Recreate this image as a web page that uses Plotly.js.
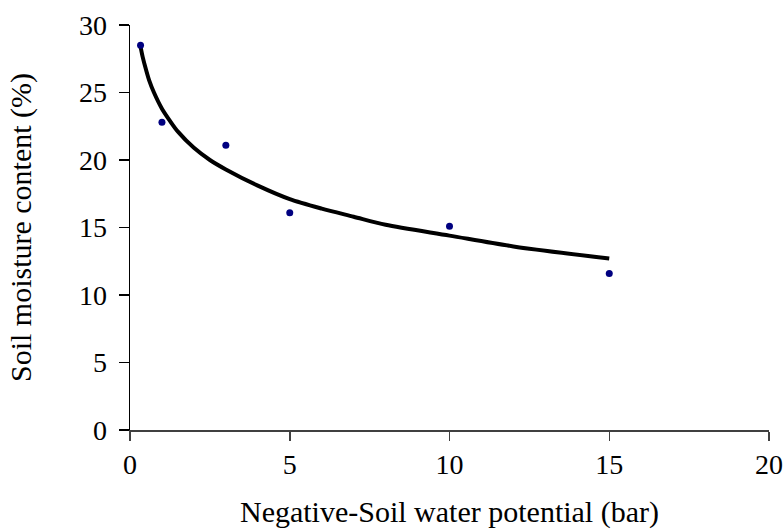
<!DOCTYPE html>
<html>
<head>
<meta charset="utf-8">
<script src="https://cdn.plot.ly/plotly-3.0.1.min.js"></script>
<style>html,body{margin:0;padding:0;background:#fff;}#chart{width:783px;height:529px;}</style>
</head>
<body>
<div id="chart"></div>
<script>
// Observed data points
var potential = [0.33, 1, 3, 5, 10, 15];
var moisture = [28.5, 22.8, 21.1, 16.1, 15.1, 11.6];

// Logarithmic trend line
var trendX = [0.33, 0.4, 0.5, 0.6, 0.75, 1, 1.25, 1.5, 2, 2.5, 3, 4, 5, 6, 7, 8, 10, 12, 15];
var trendY = [28.4, 27.6, 26.7, 25.9, 25.0, 23.8, 22.9, 22.1, 20.9, 20.0, 19.3, 18.1, 17.1, 16.4, 15.8, 15.2, 14.4, 13.6, 12.7];

var xTicks = [0, 5, 10, 15, 20];
var yTicks = [0, 5, 10, 15, 20, 25, 30];

var fam = '"Liberation Serif", "Times New Roman", serif';
var tickFont = {family: fam, size: 28, color: '#000'};
var titleFont = {family: fam, size: 30, color: '#000'};

var traces = [
  {x: trendX, y: trendY, type: 'scatter', mode: 'lines',
   line: {color: '#000', width: 4, shape: 'spline', smoothing: 0.8}, hoverinfo: 'skip'},
  {x: potential, y: moisture, type: 'scatter', mode: 'markers',
   marker: {color: '#000080', size: 7}}
];

var layout = {
  width: 783, height: 529,
  margin: {l: 130, r: 14, t: 25, b: 99},
  paper_bgcolor: '#fff', plot_bgcolor: '#fff',
  showlegend: false,
  font: tickFont,
  xaxis: {
    range: [0, 20], tickvals: xTicks, ticktext: xTicks.map(String),
    showgrid: false, zeroline: false, showline: true, linecolor: '#404040', linewidth: 1.5,
    ticks: 'outside', ticklen: 9, tickcolor: '#404040', tickwidth: 1.5,
    tickfont: tickFont,
    title: {text: 'Negative-Soil water potential (bar)', font: titleFont, standoff: 27}
  },
  yaxis: {
    range: [0, 30], tickvals: yTicks, ticktext: yTicks.map(String),
    showgrid: false, zeroline: false, showline: true, linecolor: '#000', linewidth: 1.5,
    ticks: 'outside', ticklen: 10, tickcolor: '#000', tickwidth: 1.5,
    tickfont: tickFont, ticklabelstandoff: 6,
    title: {text: 'Soil moisture content (%)', font: titleFont, standoff: 38}
  }
};

Plotly.newPlot('chart', traces, layout, {displayModeBar: false, staticPlot: true});
</script>
</body>
</html>
